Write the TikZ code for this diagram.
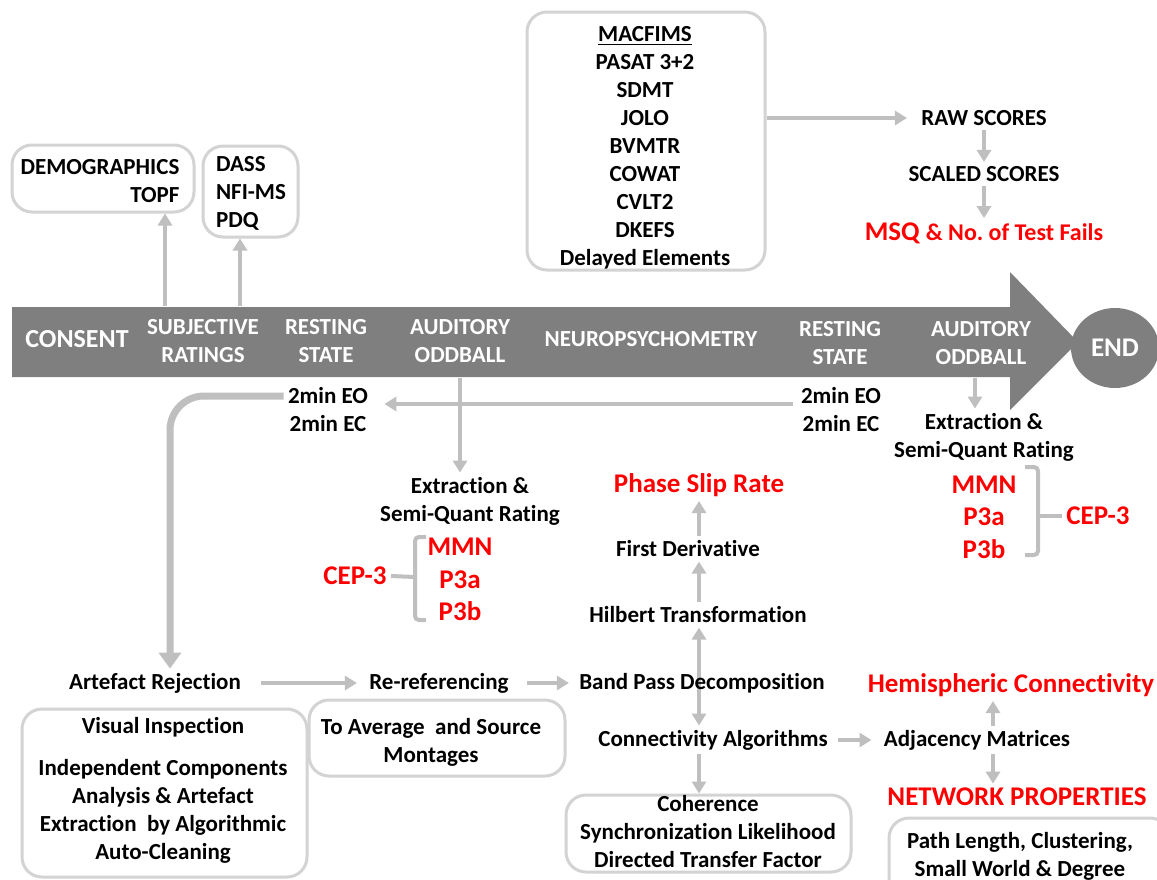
\documentclass[tikz,border=0pt]{standalone}
\usepackage{fontspec}
\setmainfont{Carlito}[Ligatures=NoCommon]
\usetikzlibrary{arrows.meta,shapes.geometric,backgrounds}

\definecolor{barc}{HTML}{7F7F7F}
\definecolor{arrc}{HTML}{BFBFBF}
\definecolor{boxc}{HTML}{D3D3D3}

\tikzset{
  lbl/.style={font=\bfseries\fontsize{11.5}{14}\selectfont, text=black, align=center, inner sep=2pt},
  hot/.style={lbl, text=red, font=\bfseries\fontsize{13.5}{16}\selectfont},
  bartxt/.style={lbl, text=white},
  panel/.style={draw=boxc, line width=1.5pt, rounded corners=10pt},
  flow/.style={draw=arrc, line width=2pt, -{Triangle[width=7pt,length=6pt]}},
  brace/.style={draw=arrc, line width=2pt, rounded corners=2pt},
}

\begin{document}
\begin{tikzpicture}[x=0.5pt, y=-0.5pt]
  \useasboundingbox (0,0) rectangle (1157,879);
  \clip (0,0) rectangle (1157,879);

  % timeline bar
  \fill[barc] (12,307) -- (1010,307) -- (1010,272) -- (1078,342) -- (1010,410) -- (1010,377) -- (12,377) -- cycle;
  \node[ellipse, fill=barc, minimum width=44pt, minimum height=40pt, inner sep=0pt] (endnode) at (1115,348) {};
  \node[bartxt, font=\bfseries\fontsize{13.5}{16}\selectfont] at (endnode) {END};
  \node[bartxt, font=\bfseries\fontsize{13}{14}\selectfont] (consent) at (77,339) {CONSENT};
  \node[bartxt] (subj) at (203,341) {SUBJECTIVE\\RATINGS};
  \node[bartxt] (rest1) at (326,341) {RESTING\\STATE};
  \node[bartxt] (aud1) at (460,341) {AUDITORY\\ODDBALL};
  \node[bartxt] (neuro) at (651,339) {NEUROPSYCHOMETRY};
  \node[bartxt] (rest2) at (840,343) {RESTING\\STATE};
  \node[bartxt] (aud2) at (981,343) {AUDITORY\\ODDBALL};
  \coordinate (s1) at (165,306);
  \coordinate (s2) at (240,306);
  \coordinate (a1) at (460,378);
  \coordinate (a2) at (975,378);

  % boxes
  \node[panel, minimum width=91pt, minimum height=33.5pt] (demobox) at (103,178.5) {};
  \node[panel, minimum width=47.5pt, minimum height=45.5pt] (dassbox) at (250.5,191.5) {};
  \node[panel, minimum width=119pt, minimum height=129pt] (macbox) at (646,141) {};
  \node[panel, minimum width=142.5pt, minimum height=84pt] (visbox) at (164.5,793) {};
  \node[panel, minimum width=128pt, minimum height=38pt] (avgbox) at (437,738) {};
  \node[panel, minimum width=142.5pt, minimum height=38.5pt] (cohbox) at (708.5,833.5) {};
  \node[panel, minimum width=140.5pt, minimum height=41pt] (netbox) at (1029.5,859) {};

  \node[lbl, align=right] (demo) at (100,181.5) {DEMOGRAPHICS\\TOPF};
  \node[lbl, align=left] (dass) at (251,193) {DASS\\NFI-MS\\PDQ};
  \node[lbl] (macfims) at (645,148) {\underline{MACFIMS}\\PASAT 3+2\\SDMT\\JOLO\\BVMTR\\COWAT\\CVLT2\\DKEFS\\Delayed Elements};

  % scores
  \node[lbl] (raw) at (984,118) {RAW SCORES};
  \node[lbl] (scaled) at (984,174) {SCALED SCORES};
  \node[hot] (msq) at (984,233) {MSQ {\fontsize{12}{14}\selectfont\& No.\ of Test Fails}};

  % resting state
  \node[lbl] (rs1) at (328,410) {2min EO\\2min EC};
  \node[lbl] (rs2) at (841,410) {2min EO\\2min EC};

  % oddball, left
  \node[lbl] (ext1) at (470,501) {Extraction \&\\Semi-Quant Rating};
  \node[hot] (mmn1) at (460,547) {MMN};
  \node[hot] (p3a1) at (460,580) {P3a};
  \node[hot] (p3b1) at (460,611) {P3b};
  \node[hot] (cep1) at (355,576) {CEP-3};

  % oddball, right
  \node[lbl] (ext2) at (984,437) {Extraction \&\\Semi-Quant Rating};
  \node[hot] (mmn2) at (984,485) {MMN};
  \node[hot] (p3a2) at (984,517) {P3a};
  \node[hot] (p3b2) at (984,549) {P3b};
  \node[hot] (cep2) at (1098,516) {CEP-3};

  % processing chain
  \node[hot] (psr) at (699,485) {Phase Slip Rate};
  \node[lbl] (fd) at (688,549) {First Derivative};
  \node[lbl] (hilbert) at (698,615) {Hilbert Transformation};
  \node[lbl] (bandpass) at (702,683) {Band Pass Decomposition};
  \node[lbl] (conn) at (713,740) {Connectivity Algorithms};
  \node[lbl] (coh) at (708,832) {Coherence\\Synchronization Likelihood\\Directed Transfer Factor};
  \node[lbl] (adj) at (977,740) {Adjacency Matrices};
  \node[hot] (hemi) at (1011,685) {Hemispheric Connectivity};
  \node[hot] (netprop) at (1017,797) {NETWORK PROPERTIES};
  \node[lbl] (net) at (1020,856) {Path Length, Clustering,\\Small World \& Degree};

  \node[lbl] (artefact) at (155,683) {Artefact Rejection};
  \node[lbl] (reref) at (439,683) {Re-referencing};
  \node[lbl] (vis) at (163,790.5) {Visual Inspection\\[7pt]Independent Components\\Analysis \& Artefact\\Extraction~ by Algorithmic\\Auto-Cleaning};
  \node[lbl] (avg) at (431,742) {To Average~ and Source\\Montages};

  \begin{scope}[on background layer]
    \draw[flow] (s1) -- (demobox.south -| s1);
    \draw[flow] (s2) -- (dassbox.south -| s2);
    \draw[flow, shorten >=5pt] ([yshift=11.5pt]macbox.east) -- (raw.west);
    \draw[flow] (raw.south) -- (scaled.north);
    \draw[flow] (scaled.south) -- (msq.north);
    \draw[flow] (a1) -- (ext1.north -| a1);
    \draw[flow] (a2) -- (ext2.north -| a2);
    \draw[flow, shorten <=2pt, shorten >=6pt] ([yshift=3pt]rs2.west) -- ([yshift=3pt]rs1.east);
    \draw[flow, line width=3.5pt, rounded corners=17pt, -{Triangle[width=11pt,length=8pt]}]
      ([yshift=7pt]rs1.west) -| (artefact.north -| 170,0);
    \draw[flow] (fd.north -| psr) -- (psr.south);
    \draw[flow] (hilbert.north -| psr) -- (fd.south -| psr);
    \draw[flow] (bandpass.center -| psr) -- (hilbert.south -| psr);
    \draw[flow] (bandpass.center -| psr) -- (conn.north -| psr);
    \draw[flow] (conn.south -| psr) -- (cohbox.north -| psr);
    \draw[flow, shorten <=3pt, shorten >=4pt] (conn.east) -- (adj.west);
    \draw[flow] ([xshift=8pt]adj.north) -- ([xshift=8pt]adj.north |- hemi.south);
    \draw[flow] ([xshift=8pt]adj.south) -- ([xshift=8pt]adj.south |- netprop.north);
    \draw[flow, shorten <=8pt, shorten >=4pt] (artefact.east) -- (reref.west);
    \draw[flow, shorten <=7pt, shorten >=3pt] (reref.east) -- (bandpass.west);
    % brackets
    \draw[brace] (426,537) -- (415,537) -- (415,620) -- (426,620);
    \draw[brace] (415,577) -- (cep1.east);
    \draw[brace] (1025,467) -- (1038,467) -- (1038,555) -- (1025,555);
    \draw[brace] (1038,516) -- (cep2.west);
  \end{scope}
\end{tikzpicture}
\end{document}
